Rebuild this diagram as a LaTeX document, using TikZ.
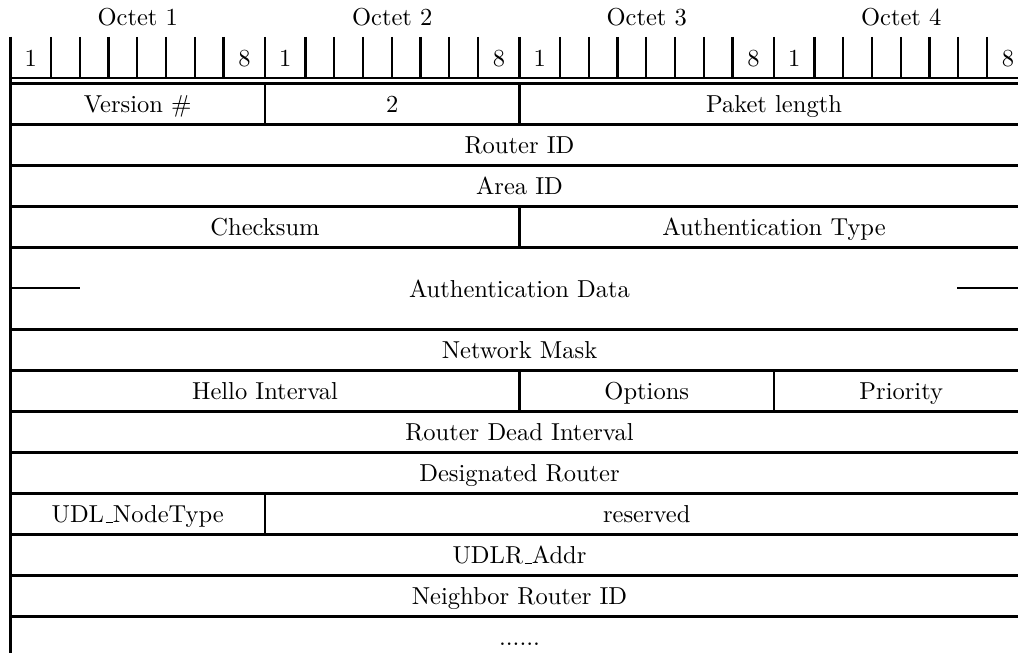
\documentclass[tikz,border=0pt]{standalone}
% classic low-rule underscore
\newcommand{\lowrule}{\leavevmode\kern.06em\vbox{\hrule width.3em}}
\begin{document}
\begin{tikzpicture}[x=0.408pt,y=-0.408pt,
  rule/.style={line width=1.1pt},
  border/.style={line width=1.3pt},
  tick/.style={line width=0.85pt},
  sep/.style={line width=0.85pt},
  lbl/.style={inner sep=0pt,anchor=base}]
\useasboundingbox (0,0) rectangle (1018,653);
\clip (0,0) rectangle (1018,653);

% octet headings and bit ruler
\foreach \k in {0,1,2,3}{
  \pgfmathsetmacro{\b}{10.5+254.5*\k}
  \pgfmathtruncatemacro{\n}{\k+1}
  \node[lbl] (oct\n) at (\b+127.25,26) {Octet \n};
  \node[lbl] (first\n) at (\b+20.25,67) {1};
  \node[lbl] (last\n) at (\b+234,67) {8};
  \draw[tick] (\b,37) -- (\b,78);
  \draw[tick] (\b+40.5,37) -- (\b+40.5,78);
  \foreach \j in {1,...,6}{
    \draw[tick] (\b+40.5+28.75*\j,37) -- (\b+40.5+28.75*\j,78);
  }
}
\draw[rule] (10.5,78) -- (1028.5,78);

% left border of the packet
\draw[border] (10.5,37) -- (10.5,653);

% horizontal row boundaries
\foreach \y in {83.5,124.5,165.5,206.5,247.5,329.5,370.5,411.5,452.5,493.5,534.5,575.5,616.5}{
  \draw[rule] (10.5,\y) -- (1028.5,\y);
}

% vertical field separators
\draw[sep] (265,83.5) -- (265,124.5);
\draw[sep] (519.5,83.5) -- (519.5,124.5);
\draw[sep] (519.5,206.5) -- (519.5,247.5);
\draw[sep] (519.5,370.5) -- (519.5,411.5);
\draw[sep] (774,370.5) -- (774,411.5);
\draw[sep] (265,493.5) -- (265,534.5);

% variable length marks of the authentication data
\draw[rule] (10.5,288) -- (80,288);
\draw[rule] (957,288) -- (1028.5,288);

% field labels
\node[lbl] (version)  at (137.75,113)  {Version \#};
\node[lbl] (type)     at (392.25,113)  {2};
\node[lbl] (length)   at (774,113)     {Paket length};
\node[lbl] (router)   at (519.5,154)   {Router ID};
\node[lbl] (area)     at (519.5,195)   {Area ID};
\node[lbl] (checksum) at (265,236)     {Checksum};
\node[lbl] (authtype) at (774,236)     {Authentication Type};
\node[lbl] (authdata) at (519.5,297.5) {Authentication Data};
\node[lbl] (mask)     at (519.5,359)   {Network Mask};
\node[lbl] (hello)    at (265,400)     {Hello Interval};
\node[lbl] (options)  at (646.75,400)  {Options};
\node[lbl] (priority) at (901.25,400)  {Priority};
\node[lbl] (dead)     at (519.5,441)   {Router Dead Interval};
\node[lbl] (dr)       at (519.5,482)   {Designated Router};
\node[lbl] (nodetype) at (137.75,523)  {UDL\lowrule NodeType};
\node[lbl] (reserved) at (646.75,523)  {reserved};
\node[lbl] (udlr)     at (519.5,564)   {UDLR\lowrule Addr};
\node[lbl] (neighbor) at (519.5,605)   {Neighbor Router ID};
\node[lbl] (more)     at (519.5,646)   {......};
\end{tikzpicture}
\end{document}
